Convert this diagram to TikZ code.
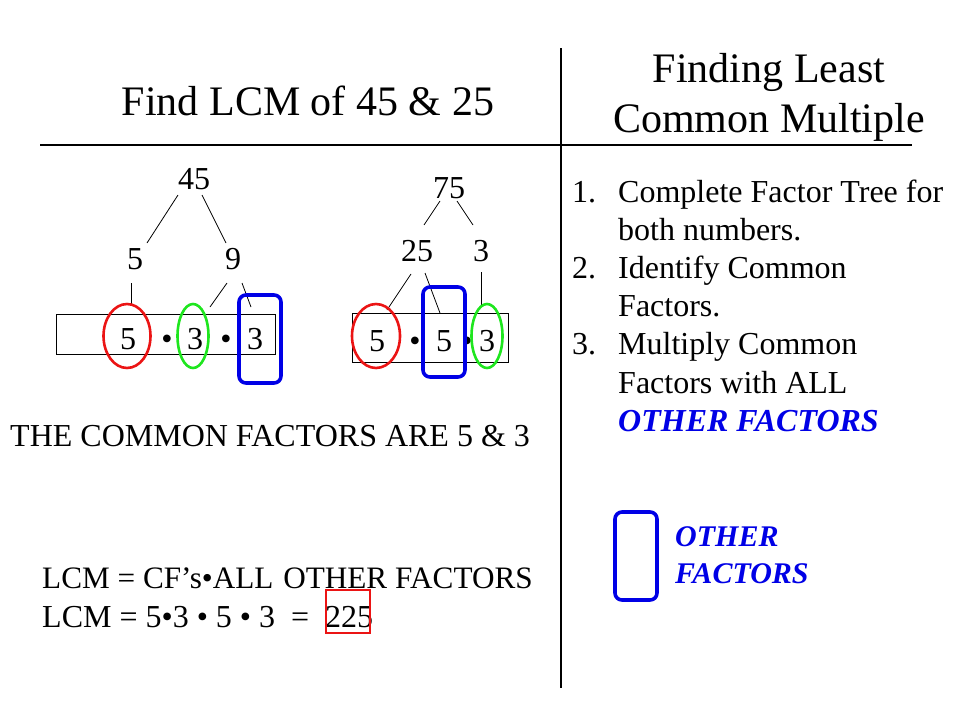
\documentclass[tikz,border=0pt]{standalone}
\usepackage{fontspec}
\setmainfont{Liberation Serif}
\usetikzlibrary{shapes.geometric}
\definecolor{pptred}{RGB}{235,20,20}
\definecolor{pptgreen}{RGB}{30,230,30}
\definecolor{pptblue}{RGB}{0,0,230}
\begin{document}
\begin{tikzpicture}[x=1pt,y=-1pt,
  title/.style={font=\fontsize{42}{48}\selectfont, inner sep=0, anchor=base},
  txt/.style={font=\fontsize{32}{38}\selectfont, inner sep=0, anchor=base},
  ltxt/.style={txt, anchor=base west},
  emph/.style={font=\fontsize{32}{38}\selectfont\bfseries\itshape, text=pptblue, inner sep=0, anchor=base west},
  legtxt/.style={font=\fontsize{30}{36}\selectfont\bfseries\itshape, text=pptblue, inner sep=0, anchor=base west},
  rule/.style={draw=black, line width=1.1pt},
  branch/.style={draw=black, line width=0.8pt},
  bar/.style={draw=black, line width=1pt, rectangle, inner sep=0},
  redring/.style={draw=pptred, line width=2.6pt, ellipse, inner sep=0},
  greenring/.style={draw=pptgreen, line width=2.6pt, ellipse, inner sep=0},
  otherbox/.style={draw=pptblue, line width=3.6pt, rectangle, rounded corners=7pt, inner sep=0},
  resultbox/.style={draw=pptred, line width=1.6pt, rectangle, inner sep=0}]
\useasboundingbox (0,0) rectangle (960,720);

% dividing rules
\coordinate (vtop) at (561,48);
\coordinate (vbot) at (561,688);
\coordinate (hl) at (40,145);
\coordinate (hr) at (912,145);
\draw[rule] (vtop) -- (vbot);
\draw[rule] (hl) -- (hr);

% titles
\node[title] (lefttitle) at (308,115) {Find LCM of 45 \& 25};
\node[title] (rtitle1) at (769,82) {Finding Least};
\node[title] (rtitle2) at (769,132) {Common Multiple};

% factor bars
\node[bar, minimum width=219pt, minimum height=40pt] (bar1) at (165.5,334) {};
\node[bar, minimum width=156pt, minimum height=49pt] (bar2) at (430,337.5) {};

% tree 1
\node[txt] (a45) at (194,189) {45};
\node[txt] (a5) at (135,269) {5};
\node[txt] (a9) at (233,269) {9};
\node[txt] (p1) at (128,349) {5};
\node[txt] (d1) at (167,349) {•};
\node[txt] (p2) at (195,349) {3};
\node[txt] (d2) at (226,349) {•};
\node[txt] (p3) at (255,349) {3};

\coordinate (a1s) at (178,195); \coordinate (a1e) at (147,243);
\coordinate (a2s) at (202,195); \coordinate (a2e) at (226,243);
\coordinate (a3s) at (131,283); \coordinate (a3e) at (131,305);
\coordinate (a4s) at (227,283); \coordinate (a4e) at (210,307);
\coordinate (a5s) at (242,283); \coordinate (a5e) at (251,307);
\draw[branch] (a1s) -- (a1e);
\draw[branch] (a2s) -- (a2e);
\draw[branch] (a3s) -- (a3e);
\draw[branch] (a4s) -- (a4e);
\draw[branch] (a5s) -- (a5e);

\node[redring, minimum width=47pt, minimum height=64pt] (r1) at (127,336) {};
\node[greenring, minimum width=31pt, minimum height=64pt] (g1) at (193,336) {};
\node[otherbox, minimum width=42pt, minimum height=88pt] (o1) at (260,339) {};

% tree 2
\node[txt] (b75) at (449,198) {75};
\node[txt] (b25) at (417,261) {25};
\node[txt] (b3) at (481,261) {3};
\node[txt] (q1) at (377,351) {5};
\node[txt] (e1) at (415,351) {•};
\node[txt] (q2) at (444,351) {5};
\node[txt] (e2) at (467,351) {•};
\node[txt] (q3) at (487,351) {3};

\coordinate (b1s) at (440,201); \coordinate (b1e) at (424,225);
\coordinate (b2s) at (457,201); \coordinate (b2e) at (473,225);
\coordinate (b3s) at (411,274); \coordinate (b3e) at (387,310);
\coordinate (b4s) at (425,273); \coordinate (b4e) at (440,313);
\coordinate (b5s) at (481,272); \coordinate (b5e) at (481,305);
\draw[branch] (b1s) -- (b1e);
\draw[branch] (b2s) -- (b2e);
\draw[branch] (b3s) -- (b3e);
\draw[branch] (b4s) -- (b4e);
\draw[branch] (b5s) -- (b5e);

\node[redring, minimum width=48pt, minimum height=64pt] (r2) at (376,336) {};
\node[otherbox, minimum width=42pt, minimum height=90pt] (o2) at (444,332) {};
\node[greenring, minimum width=31pt, minimum height=64pt] (g2) at (487,336) {};

% conclusions
\node[ltxt] (common) at (10,446) {THE COMMON FACTORS ARE 5 \& 3};
\node[ltxt, font=\fontsize{31.2}{38}\selectfont] (lcm1) at (42,588) {LCM = CF’s•ALL\hspace{2pt} OTHER FACTORS};
\node[ltxt] (lcm2) at (42,627) {LCM = 5•3 • 5 • 3\ \ =\ \ 225};
\node[resultbox, minimum width=44pt, minimum height=43pt] (res) at (348,611.5) {};

% steps
\node[ltxt] (n1) at (572,202) {1.};
\node[ltxt] (s1a) at (618,202) {Complete Factor Tree for};
\node[ltxt] (s1b) at (618,240.2) {both numbers.};
\node[ltxt] (n2) at (572,278.4) {2.};
\node[ltxt] (s2a) at (618,278.4) {Identify Common};
\node[ltxt] (s2b) at (618,316.6) {Factors.};
\node[ltxt] (n3) at (572,354.8) {3.};
\node[ltxt] (s3a) at (618,354.8) {Multiply Common};
\node[ltxt] (s3b) at (618,393) {Factors with ALL};
\node[emph] (s3c) at (618,431.2) {OTHER FACTORS};

% legend
\node[otherbox, minimum width=42pt, minimum height=88pt] (leg) at (636,556) {};
\node[legtxt] (leg1) at (675,546) {OTHER};
\node[legtxt] (leg2) at (675,583) {FACTORS};
\end{tikzpicture}
\end{document}
